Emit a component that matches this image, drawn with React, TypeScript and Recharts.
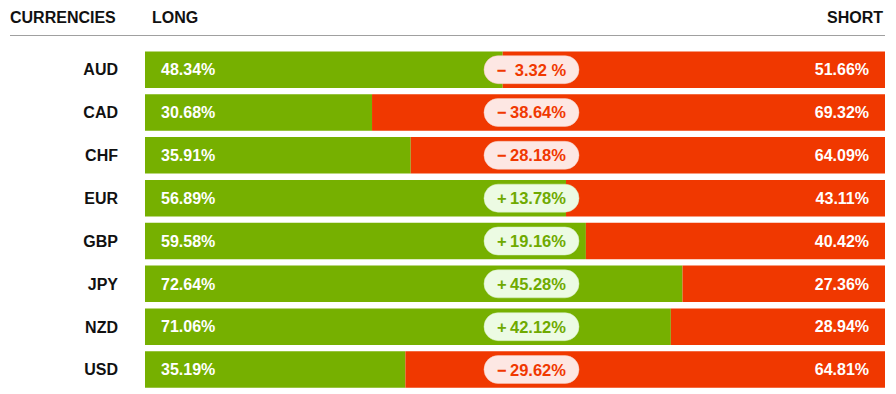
import React from 'react';
import { BarChart, Bar, XAxis, YAxis, LabelList } from 'recharts';

const currencies = ['AUD', 'CAD', 'CHF', 'EUR', 'GBP', 'JPY', 'NZD', 'USD'];
const longPct = [48.34, 30.68, 35.91, 56.89, 59.58, 72.64, 71.06, 35.19];
const shortPct = [51.66, 69.32, 64.09, 43.11, 40.42, 27.36, 28.94, 64.81];
const netChange = [-3.32, -38.64, -28.18, 13.78, 19.16, 45.28, 42.12, -29.62];

const GREEN = '#76b000';
const RED = '#f03800';
const FONT = '"Liberation Sans", Arial, Helvetica, sans-serif';

const data = currencies.map((name, i) => ({
  name,
  long: longPct[i],
  short: shortPct[i],
  net: netChange[i],
}));

const fmtNet = (v: number) => {
  const a = Math.abs(v);
  const sign = v < 0 ? '\u2212' : '+';
  // small values are padded in the original widget
  return a < 10 ? `${sign}\u2002${a.toFixed(2)} %` : `${sign}\u2009${a.toFixed(2)}%`;
};

// drawn on the short (right) segment so it sits above both bars
const NetPill = (props: any) => {
  const { x, y, width, height, index } = props;
  const v = data[index].net;
  const cx = x + width - 353.5;
  const cy = y + height / 2;
  const neg = v < 0;
  return (
    <g>
      <rect x={cx - 47.5} y={cy - 14} width={95} height={28} rx={14} ry={14}
        fill={neg ? '#fde7e3' : '#ecfbe3'} stroke={neg ? '#f7c9bd' : '#d4efbf'} strokeWidth={0.5} />
      <text x={cx} y={cy} textAnchor="middle" dominantBaseline="central"
        fill={neg ? RED : '#6faa00'} fontSize={16.5} fontWeight="bold" fontFamily={FONT}
        style={{ whiteSpace: 'pre' }}>
        {fmtNet(v)}
      </text>
    </g>
  );
};

export default function App() {
  return (
    <div style={{ position: 'absolute', left: 0, top: 0, width: 896, height: 394, background: '#fff' }}>
      <svg width={896} height={40} style={{ position: 'absolute', left: 0, top: 0 }}>
        <g fontFamily={FONT} fontSize={16} fontWeight="bold" fill="#111">
          <text x={10} y={22.5}>CURRENCIES</text>
          <text x={152} y={22.5}>LONG</text>
          <text x={883} y={22.5} textAnchor="end">SHORT</text>
        </g>
        <line x1={10} x2={885} y1={35.5} y2={35.5} stroke="#a0a0a0" strokeWidth={1} />
      </svg>
      <div style={{ position: 'absolute', left: 0, top: 0 }}>
        <BarChart layout="vertical" width={896} height={394} data={data}
          margin={{ top: 48.4, right: 11, bottom: 2.9, left: 0 }}>
          <XAxis type="number" domain={[0, 100]} hide />
          <YAxis type="category" dataKey="name" width={145} axisLine={false} tickLine={false}
            tickSize={0} tickMargin={27}
            tick={{ fill: '#111', fontSize: 16, fontWeight: 'bold', fontFamily: FONT }} />
          <Bar dataKey="long" stackId="a" fill={GREEN} barSize={36.5} isAnimationActive={false}>
            <LabelList dataKey="long" position="insideLeft" offset={16}
              formatter={(v: any) => `${Number(v).toFixed(2)}%`}
              fill="#fff" fontSize={16} fontWeight="bold" fontFamily={FONT} />
          </Bar>
          <Bar dataKey="short" stackId="a" fill={RED} barSize={36.5} isAnimationActive={false}>
            <LabelList dataKey="short" position="insideRight" offset={16}
              formatter={(v: any) => `${Number(v).toFixed(2)}%`}
              fill="#fff" fontSize={16} fontWeight="bold" fontFamily={FONT} />
            <LabelList dataKey="net" content={<NetPill />} />
          </Bar>
        </BarChart>
      </div>
    </div>
  );
}
